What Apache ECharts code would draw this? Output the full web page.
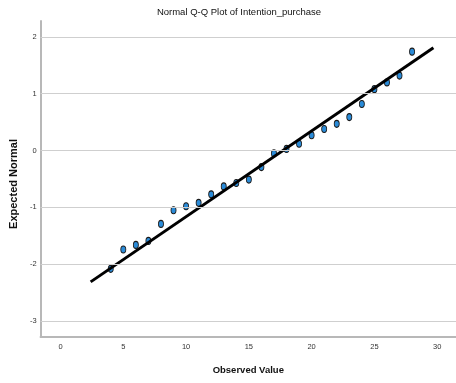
<!DOCTYPE html>
<html>
<head>
<meta charset="utf-8">
<script src="https://cdn.jsdelivr.net/npm/echarts@6/dist/echarts.min.js"></script>
<style>
  html, body { margin: 0; padding: 0; background: #fff; }
  #chart { width: 456px; height: 383px; }
</style>
</head>
<body>
<div id="chart"></div>
<script>
// Observed scores and their expected normal quantiles
const observed = [4, 5, 6, 7, 8, 9, 10, 11, 12, 13, 14, 15, 16, 17, 18, 19, 20, 21, 22, 23, 24, 25, 26, 27, 28];
const expectedNormal = [-2.08, -1.74, -1.66, -1.59, -1.29, -1.05, -0.98, -0.92, -0.77, -0.63, -0.57, -0.51, -0.29, -0.05, 0.03, 0.12, 0.27, 0.38, 0.47, 0.59, 0.82, 1.08, 1.20, 1.32, 1.74];

// Reference line endpoints (observed value, expected normal)
const refLineX = [2.4, 29.7];
const refLineY = [-2.31, 1.81];

// Axis ticks
const xTicks = [0, 5, 10, 15, 20, 25, 30];
const yTicks = [-3, -2, -1, 0, 1, 2];

const sans = "'Liberation Sans', Arial, sans-serif";

const chart = echarts.init(document.getElementById('chart'));
chart.setOption({
  animation: false,
  backgroundColor: '#ffffff',
  title: {
    text: 'Normal Q-Q Plot of Intention_purchase',
    left: 234,
    textAlign: 'center',
    top: 2,
    textStyle: { fontFamily: sans, fontSize: 9.5, fontWeight: 'normal', color: '#111' }
  },
  grid: { left: 40, right: 0, top: 21, bottom: 46, containLabel: false },
  xAxis: {
    type: 'value',
    min: -1.59,
    max: 31.5,
    name: 'Observed Value',
    nameLocation: 'middle',
    nameGap: 28,
    nameTextStyle: { fontFamily: sans, fontSize: 9.5, fontWeight: 'bold', color: '#111' },
    axisLine: { show: true, onZero: false, lineStyle: { color: '#b8b8b8', width: 2 } },
    axisTick: { show: false },
    splitLine: { show: false },
    axisLabel: {
      customValues: xTicks,
      margin: 6,
      fontFamily: sans, fontSize: 7.5, color: '#333'
    }
  },
  yAxis: {
    type: 'value',
    min: -3.28,
    max: 2.28,
    name: 'Expected Normal',
    nameLocation: 'middle',
    nameGap: 19,
    nameRotate: 90,
    nameTextStyle: { fontFamily: sans, fontSize: 11, fontWeight: 'bold', color: '#111', padding: [0, 10, 0, 0] },
    axisLine: { show: true, onZero: false, lineStyle: { color: '#b8b8b8', width: 2 } },
    axisTick: { show: false },
    splitLine: { show: false },
    axisLabel: {
      customValues: yTicks,
      margin: 4,
      fontFamily: sans, fontSize: 7.5, color: '#333'
    }
  },
  series: [
    {
      // horizontal grid lines at each tick
      type: 'line',
      data: [],
      silent: true,
      markLine: {
        silent: true,
        symbol: 'none',
        label: { show: false },
        lineStyle: { color: '#cfcfcf', width: 1, type: 'solid' },
        data: yTicks.map(v => ({ yAxis: v }))
      }
    },
    {
      type: 'scatter',
      data: observed.map((x, i) => [x, expectedNormal[i]]),
      symbol: 'circle',
      symbolSize: [5, 7],
      itemStyle: { color: '#2a8bd8', borderColor: '#1a1a1a', borderWidth: 1, opacity: 1 },
      z: 3
    },
    {
      type: 'line',
      data: refLineX.map((x, i) => [x, refLineY[i]]),
      symbol: 'none',
      lineStyle: { color: '#000', width: 3 },
      z: 4
    }
  ]
});
</script>
</body>
</html>
